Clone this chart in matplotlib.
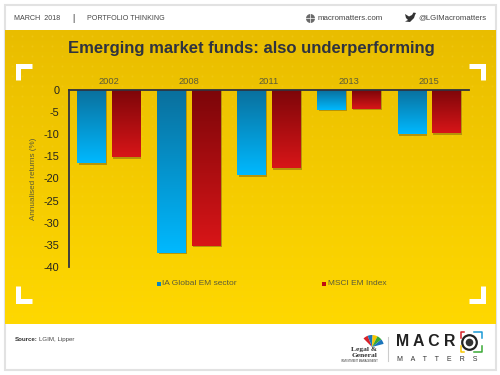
import numpy as np
import matplotlib
matplotlib.use("Agg")
import matplotlib.pyplot as plt
from matplotlib.colors import LinearSegmentedColormap
from matplotlib.patches import Rectangle, Wedge, Polygon

# data
years = ["2002", "2008", "2011", "2013", "2015"]
ia_sector = [-16.6, -36.8, -19.3, -4.5, -10.0]
msci_index = [-15.2, -35.2, -17.7, -4.2, -9.8]
y_ticks = [0, -5, -10, -15, -20, -25, -30, -35, -40]
series_names = ["IA Global EM sector", "MSCI EM Index"]

W, H = 500, 375
DARK = "#2f3340"
TEXT = "#5b5a3a"

blue_cm = LinearSegmentedColormap.from_list("b", ["#0a6f9c", "#00b9ff"])
red_cm = LinearSegmentedColormap.from_list("r", ["#7c0609", "#d81518"])
panel_cm = LinearSegmentedColormap.from_list("p", ["#e9bd00", "#ffd800"])
ramp = np.linspace(0, 1, 256).reshape(-1, 1)

plt.rcParams["font.family"] = ["Liberation Sans", "DejaVu Sans"]
fig = plt.figure(figsize=(5, 3.75), dpi=100, facecolor="white")

# background layer in pixel coordinates
bg = fig.add_axes([0, 0, 1, 1])
bg.add_patch(Rectangle((5, 5), 491, 365, fc="white", ec="#e2e2e2", lw=1.5))
bg.imshow(ramp, cmap=panel_cm, extent=(5, 496, 324, 30), aspect="auto", zorder=1)
bg.set_xlim(0, W)
bg.set_ylim(H, 0)
bg.axis("off")

# faint dot texture on the panel
gx, gy = np.meshgrid(np.arange(12, 494, 10), np.arange(36, 322, 10))
bg.scatter(gx.ravel(), gy.ravel(), s=2.0, c="#f6d23a", alpha=0.35, lw=0, zorder=2)

# white corner brackets
for x, y, dx, dy in [(15, 63, 1, 1), (485.5, 63, -1, 1), (15, 303, 1, -1), (485.5, 303, -1, -1)]:
    bg.plot([x + dx * 17, x + dx * 2.5, x + dx * 2.5], [y + dy * 2.5, y + dy * 2.5, y + dy * 17],
            color="white", lw=3.6, solid_joinstyle="miter", solid_capstyle="butt", zorder=3)

# header
bg.text(14, 18, "MARCH  2018", fontsize=5.1, color="#444444", va="center")
bg.text(73, 18.5, "|", fontsize=6.5, color="#333333", va="center", ha="center")
bg.text(87, 18, "PORTFOLIO THINKING", fontsize=5.1, color="#444444", va="center")
bg.scatter([310], [17.5], s=42, c="#6a6a6a", lw=0, zorder=3)
bg.plot([304, 316], [17.5, 17.5], color="white", lw=0.5, zorder=4)
bg.plot([310, 310], [12.5, 22.5], color="white", lw=0.5, zorder=4)
bg.text(318, 18, "macromatters.com", fontsize=5.7, color="#444444", va="center")
# twitter bird, no installed font has it
bg.add_patch(Polygon([(405, 14), (409, 16.5), (412, 15), (413.5, 12.5), (416, 13), (415, 15), (414, 18),
                      (410, 22), (405, 21.5), (408, 20), (406, 18)], fc="#333333", lw=0, zorder=3))
bg.text(418, 18, "@LGIMacromatters", fontsize=5.6, color="#444444", va="center")

bg.text(251, 48, "Emerging market funds: also underperforming", fontsize=12.0, fontweight="bold",
        color=DARK, ha="center", va="center", zorder=5)

# footer
bg.text(14.5, 339.5, "Source:", fontsize=4.4, fontweight="bold", color="#333333", va="center")
bg.text(39, 339.5, "LGIM, Lipper", fontsize=4.4, color="#444444", va="center")

# logo, left part
for i, c in enumerate(["#d8232a", "#1b75bb", "#f7c600", "#3aa935", "#1b75bb"]):
    bg.add_patch(Wedge((372, 347), 12, 225 + i * 24, 249 + i * 24, fc=c, lw=0, zorder=3))
bg.text(377, 349.5, "Legal &", fontsize=5.4, family="Liberation Serif", fontweight="bold", color="#333333",
        ha="right", va="center", zorder=5)
bg.text(377, 355.5, "General", fontsize=5.4, family="Liberation Serif", fontweight="bold", color="#333333",
        ha="right", va="center", zorder=5)
bg.text(378, 360.5, "INVESTMENT MANAGEMENT", fontsize=1.9, color="#333333", ha="right", va="center")
bg.plot([388, 388], [337, 361], color="#cccccc", lw=0.8)

# logo, right part
bg.text(396, 342, "M A C R", fontsize=11.4, fontweight="bold", color="#222222", va="center")
bg.scatter([469], [342], s=110, c="white", edgecolors="#222222", lw=1.6, zorder=3)
bg.scatter([469], [342], s=30, c="#333333", lw=0, zorder=4)
for xs, ys, c in [([461, 461, 464], [338, 332, 332], "#d8232a"), ([474, 482, 482], [332, 332, 338], "#1b9ad6"),
                  ([461, 461, 464], [346, 352, 352], "#f7c600"), ([474, 482, 482], [352, 352, 346], "#3aa935")]:
    bg.plot(xs, ys, color=c, lw=1.1, zorder=4)
bg.text(397, 359.5, "M    A    T    T    E    R    S", fontsize=5.0, color="#333333", va="center")

# chart axes, 68.5..469 px wide, 90..267 px high
ax = fig.add_axes([68.5 / W, 1 - 267 / H, (469 - 68.5) / W, (267 - 90) / H])
ax.patch.set_alpha(0)

x = np.arange(len(years))
bw = 0.355
off = 0.215


def grad_bars(xs, vals, cm):
    bars = ax.bar(xs, vals, bw, color="none", zorder=3)
    for b, v in zip(bars, vals):
        x0 = b.get_x()
        # drop shadow
        ax.add_patch(Rectangle((x0 + 0.018, v - 0.35), bw, -v + 0.35, fc="#a8870a", alpha=0.8, lw=0, zorder=2))
        im = ax.imshow(ramp, cmap=cm, extent=(x0, x0 + bw, v, 0), aspect="auto", zorder=3)
        im.set_clip_path(b)


grad_bars(x - off, ia_sector, blue_cm)
grad_bars(x + off, msci_index, red_cm)
ax.set_xlim(-0.5, 4.5)
ax.set_ylim(-40, 0)

for s in ["right", "bottom"]:
    ax.spines[s].set_visible(False)
for s in ["left", "top"]:
    ax.spines[s].set_color(DARK)
    ax.spines[s].set_linewidth(1.3)
    ax.spines[s].set_zorder(6)

ax.xaxis.tick_top()
ax.set_xticks(x)
ax.set_xticklabels(years, fontsize=6.7, color=TEXT)
ax.set_yticks(y_ticks)
ax.set_yticklabels([str(v) for v in y_ticks], fontsize=7.8, color="#222222")
ax.tick_params(axis="y", length=0, pad=6.5)
ax.tick_params(axis="x", length=0, pad=3)
ax.set_ylabel("Annualised returns (%)", fontsize=5.9, color=TEXT, labelpad=5)

# legend squares and labels
bg.add_patch(Rectangle((156.5, 281.5), 4, 4, fc="#0a86c2", lw=0, zorder=5))
bg.text(162, 283.5, series_names[0], fontsize=6.0, color=TEXT, va="center", zorder=5)
bg.add_patch(Rectangle((322, 281.5), 4, 4, fc="#c00d12", lw=0, zorder=5))
bg.text(327.5, 283.5, series_names[1], fontsize=6.0, color=TEXT, va="center", zorder=5)

fig.savefig("out.png", dpi=100, facecolor="white")
